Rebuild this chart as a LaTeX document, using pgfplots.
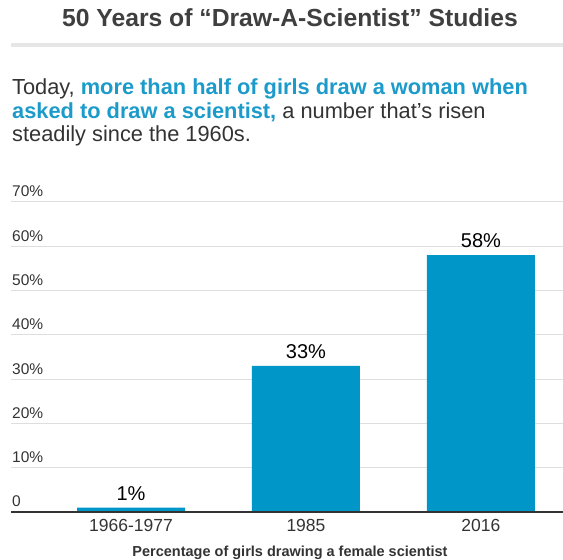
\documentclass[border=0pt]{standalone}
\usepackage{fontspec}
\setmainfont{Liberation Sans}
\usepackage{pgfplots}
\pgfplotsset{compat=1.18}
\definecolor{barblue}{HTML}{0096C8}
\definecolor{textblue}{HTML}{1C9BCB}
\definecolor{darktxt}{HTML}{333333}
\definecolor{titlegray}{HTML}{3F3F3F}
\definecolor{gridgray}{HTML}{DEDEDE}
\definecolor{rulegray}{HTML}{E6E6E6}
\begin{document}
\begin{tikzpicture}
\path[use as bounding box] (0pt,0pt) rectangle (563pt,560pt);
% header
\node[anchor=base,inner sep=0,text=titlegray,font=\fontsize{24.7pt}{29pt}\selectfont\bfseries]
  at (290pt,533pt) {50 Years of “Draw-A-Scientist” Studies};
\fill[rulegray] (11pt,513pt) rectangle (563pt,517pt);
\begin{scope}[every node/.style={anchor=base west,inner sep=0,text=darktxt,font=\fontsize{21.8pt}{26pt}\selectfont}]
\node at (12pt,465pt) {Today, \textcolor{textblue}{\bfseries more than half of girls draw a woman when}};
\node at (12pt,441.5pt) {\textcolor{textblue}{\bfseries asked to draw a scientist,} a number that’s risen};
\node at (12pt,418pt) {steadily since the 1960s.};
\end{scope}
\begin{axis}[
  at={(11pt,48pt)}, anchor=south west,
  scale only axis, width=552pt, height=310pt,
  xmin=-0.686, xmax=2.469, ymin=0, ymax=70,
  axis line style={draw=none},
  ybar, bar width=108pt,
  xtick={0,1,2}, xticklabels={1966-1977,1985,2016},
  ytick={0,10,...,70}, yticklabels={0,10\%,20\%,30\%,40\%,50\%,60\%,70\%},
  ymajorgrids=true,
  grid style={gridgray, line width=1pt},
  major tick length=0pt, tick style={draw=none},
  /pgf/number format/assume math mode=true,
  xticklabel style={anchor=base, inner sep=0, yshift=-20pt, text=darktxt,
    font=\fontsize{17.5pt}{20pt}\selectfont},
  yticklabel style={anchor=base west, inner sep=0, xshift=1pt, yshift=5pt, text=darktxt,
    font=\fontsize{15.5pt}{18pt}\selectfont},
  nodes near coords={\pgfmathprintnumber{\pgfplotspointmeta}\%},
  nodes near coords style={anchor=base, inner sep=0, yshift=7.5pt, text=black,
    font=\fontsize{20pt}{24pt}\selectfont},
  clip=false,
]
\addplot[fill=barblue, draw=none] coordinates {(0,1) (1,33) (2,58)};
\draw[darktxt, line width=1.5pt] (rel axis cs:0,0) -- (rel axis cs:1,0);
\end{axis}
\node[anchor=base,inner sep=0,text=darktxt,font=\fontsize{14.5pt}{17pt}\selectfont\bfseries]
  at (290pt,3pt) {Percentage of girls drawing a female scientist};
\end{tikzpicture}
\end{document}
